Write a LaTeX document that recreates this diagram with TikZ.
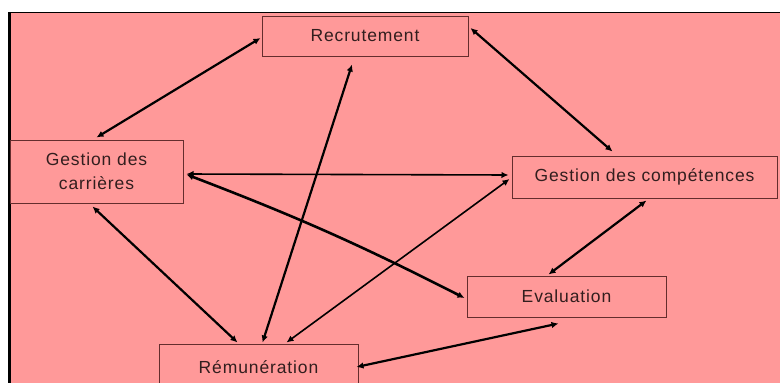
\documentclass[tikz,border=0pt]{standalone}
\usepackage{fontspec}
\setmainfont{Liberation Sans}
\usetikzlibrary{arrows.meta,calc}
\definecolor{bgpink}{RGB}{255,153,153}
\definecolor{boxline}{RGB}{100,45,45}
\definecolor{txt}{RGB}{50,30,30}
\tikzset{
  box/.style={draw=boxline,line width=1pt,fill=bgpink,text=txt,inner sep=0pt,
    font=\addfontfeature{LetterSpace=5}\fontsize{17.5}{24}\selectfont,align=center},
  arr/.style={line width=2.2pt,{Latex[length=7pt,width=6.5pt]}-{Latex[length=7pt,width=6.5pt]}},
  thinarr/.style={arr,line width=1.6pt},
}
\begin{document}
\begin{tikzpicture}[x=1pt,y=-1pt]
\useasboundingbox (0,0) rectangle (780,383);
\clip (0,0) rectangle (780,383);
\fill[bgpink] (9,12) rectangle (781,384);
\draw[line width=1.5pt] (0,12.5) -- (781,12.5);
\draw[line width=3pt] (9.5,12) -- (9.5,384);
\fill[white] (0,0) rectangle (8,383);
\node[box,minimum width=206pt,minimum height=40pt] (rec) at (365,36) {Recrutement};
\node[box,minimum width=173pt,minimum height=63pt] (car) at (96.5,171.5) {Gestion des\\carrières};
\node[box,minimum width=265pt,minimum height=42pt] (comp) at (644.5,177) {Gestion des compétences};
\node[box,minimum width=199pt,minimum height=41pt] (eval) at (566.5,296.5) {Evaluation};
\node[box,minimum width=199pt,minimum height=46pt] (rem) at (258.5,367) {Rémunération};
\draw[arr] ($(rec.west)+(-1,2)$) -- ($(car.north)+(0,-2)$);
\draw[arr] ($(rec.east)+(2,-8)$) -- ($(comp.north west)+(101,-4)$);
\draw[thinarr] ($(car.east)+(3,2.5)$) -- ($(comp.west)+(-3,-2)$);
\draw[arr,line width=2.6pt] ($(car.east)+(3,3)$) to[bend left=3] ($(eval.west)+(-2,1.5)$);
\draw[arr] ($(rec.south)+(-13,8)$) -- ($(rem.north)+(4,-1)$);
\draw[arr] ($(car.south)+(-4,3)$) -- ($(rem.north)+(-21,-1)$);
\draw[thinarr] ($(comp.west)+(-2,2)$) -- ($(rem.north)+(28,-1)$);
\draw[arr] ($(comp.south)+(2,2)$) -- ($(eval.north)+(-18,-1)$);
\draw[arr] ($(rem.east)+(-2,0)$) -- ($(eval.south)+(-8,6)$);
\end{tikzpicture}
\end{document}
